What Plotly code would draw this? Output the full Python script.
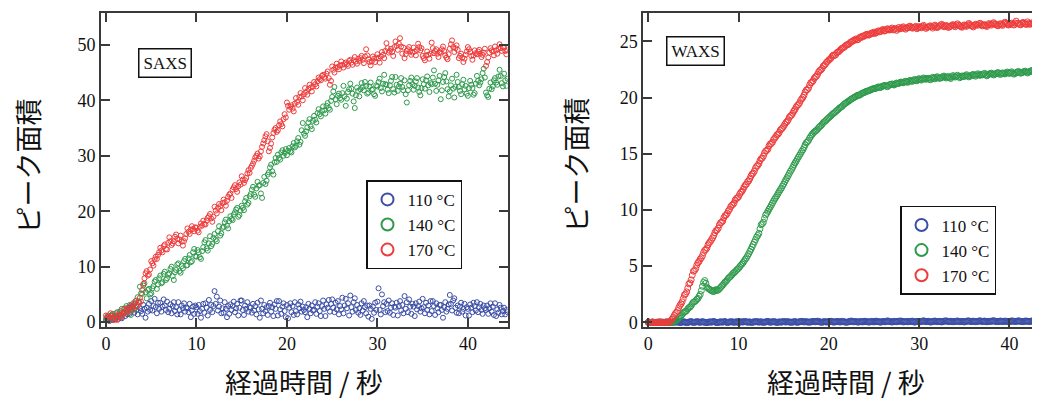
import plotly.graph_objects as go

# ---------------- data (sampled every 0.125 s) ----------------
SAMPLE_STEP_S = 0.125
legend_labels = ["110 °C", "140 °C", "170 °C"]
x_ticks = [0, 10, 20, 30, 40]
saxs_y_ticks = [0, 10, 20, 30, 40, 50]
waxs_y_ticks = [0, 5, 10, 15, 20, 25]

saxs_110 = [
    0.3, 0.6, 0.9, 0.2, 0.7, 1.1, 0.4, 0.8,
    0.5, 1.2, 0.9, 0.6, 1.4, 1.0, 0.7, 1.6,
    1.8, 1.1, 2.2, 1.4, 2.6, 1.5, 1.9, 2.8,
    2.9, 1.7, 3.4, 2.2, 1.4, 3.6, 2.5, 2.0,
    1.5, 3.1, 2.4, 0.8, 2.6, 1.9, 3.3, 2.2,
    3.8, 2.1, 2.9, 4.2, 2.7, 1.6, 3.5, 2.4,
    3.5, 1.9, 2.8, 4.1, 3.0, 2.2, 3.7, 1.8,
    2.4, 3.2, 1.6, 2.9, 3.6, 2.0, 2.7, 1.4,
    3.6, 2.2, 1.4, 3.0, 2.5, 3.4, 1.9, 2.6,
    2.5, 1.8, 3.3, 0.9, 2.1, 2.8, 1.5, 3.0,
    2.7, 1.5, 3.1, 2.0, 0.8, 2.4, 3.3, 1.7,
    3.4, 2.6, 1.2, 4.0, 2.2, 3.1, 1.8, 2.9,
    5.6, 3.3, 4.6, 2.1, 2.8, 3.9, 1.6, 2.5,
    1.7, 3.6, 2.4, 0.9, 2.9, 1.5, 3.2, 2.2,
    2.9, 3.7, 1.8, 2.5, 3.3, 1.2, 2.6, 3.9,
    3.9, 2.2, 1.3, 3.0, 2.4, 3.6, 1.9, 2.7,
    2.6, 1.7, 3.3, 2.1, 2.9, 1.4, 3.5, 2.3,
    0.8, 3.9, 2.4, 1.6, 3.1, 2.0, 2.7, 1.3,
    2.9, 3.5, 1.9, 2.7, 1.1, 3.2, 2.4, 3.8,
    1.2, 3.8, 2.3, 1.5, 2.8, 3.4, 2.0, 0.9,
    3.1, 0.7, 2.6, 3.4, 1.8, 2.9, 1.3, 3.6,
    2.0, 1.4, 3.2, 2.5, 3.7, 1.9, 2.8, 2.2,
    1.8, 2.7, 0.9, 3.3, 2.4, 1.6, 3.0, 2.1,
    2.2, 3.6, 1.5, 2.8, 3.4, 2.0, 1.1, 2.9,
    3.9, 2.4, 1.1, 3.2, 2.6, 4.0, 1.9, 3.3,
    4.1, 2.6, 1.8, 3.5, 2.3, 3.8, 1.4, 2.9,
    2.3, 4.4, 1.6, 3.0, 4.2, 2.5, 3.4, 1.2,
    4.8, 2.7, 1.9, 3.6, 4.3, 2.2, 3.1, 1.7,
    2.5, 1.3, 3.4, 2.1, 3.8, 2.7, 1.6, 3.0,
    1.0, 3.0, 2.4, 0.6, 2.8, 1.7, 3.5, 2.2,
    3.7, 6.1, 2.2, 1.4, 5.0, 2.9, 3.6, 1.8,
    3.3, 2.0, 3.9, 1.7, 2.6, 3.4, 1.3, 2.8,
    2.6, 3.5, 1.2, 2.9, 3.8, 2.1, 3.1, 1.6,
    4.7, 2.4, 3.6, 1.8, 4.1, 2.8, 1.5, 3.3,
    2.8, 1.1, 3.4, 2.3, 2.9, 3.7, 1.9, 2.5,
    4.2, 2.7, 1.6, 3.5, 2.2, 3.0, 1.4, 3.8,
    2.0, 3.8, 2.9, 1.3, 3.4, 2.5, 1.8, 3.1,
    3.1, 2.2, 0.8, 2.7, 3.6, 1.9, 2.4, 3.2,
    4.9, 3.3, 2.1, 3.9, 4.3, 2.6, 1.7, 3.0,
    1.6, 2.8, 3.5, 1.9, 2.4, 3.3, 1.2, 2.7,
    2.4, 1.2, 3.2, 2.6, 1.8, 3.5, 2.9, 2.1,
    3.6, 1.8, 2.7, 3.3, 2.2, 1.5, 3.0, 2.5,
    2.2, 3.0, 1.5, 2.5, 3.4, 1.9, 2.8, 1.3,
    3.4, 1.1, 2.3, 1.7, 3.1, 2.6, 1.4, 2.0,
    2.6, 1.4, 2.2, 1.8,
]
saxs_140 = [
    0.6, 1.0, 1.2, 0.5, 0.4, 1.3, 1.5, 0.8,
    0.9, 1.6, 1.8, 1.0, 1.1, 2.0, 2.4, 1.5,
    1.6, 2.5, 2.9, 1.8, 2.2, 3.1, 1.3, 2.4,
    3.4, 2.3, 2.6, 3.9, 4.5, 3.6, 6.4, 5.2,
    5.1, 6.6, 7.0, 5.4, 4.3, 5.8, 6.0, 5.0,
    5.2, 6.1, 6.5, 7.3, 7.6, 6.0, 6.8, 7.9,
    8.4, 7.0, 7.2, 8.7, 9.1, 7.6, 7.9, 8.6,
    8.8, 9.6, 10.0, 8.3, 7.6, 9.0, 9.4, 10.4,
    10.6, 9.2, 8.9, 10.1, 9.7, 11.0, 11.4, 10.2,
    10.3, 11.5, 12.1, 10.8, 11.0, 12.6, 13.2, 11.9,
    11.8, 13.0, 12.6, 11.7, 11.4, 12.8, 13.5, 14.4,
    14.8, 13.3, 12.9, 14.2, 15.5, 13.7, 14.1, 15.2,
    15.9, 14.9, 14.6, 16.4, 17.3, 15.6, 16.0, 17.0,
    17.2, 18.0, 18.5, 17.4, 16.9, 18.2, 19.1, 18.6,
    18.4, 19.4, 19.8, 20.3, 20.6, 19.0, 19.3, 20.1,
    21.0, 20.6, 20.2, 21.8, 22.4, 21.2, 21.5, 22.7,
    23.1, 23.9, 24.4, 23.0, 22.6, 24.1, 25.3, 24.6,
    24.7, 23.2, 22.4, 25.1, 26.2, 24.9, 25.5, 26.6,
    27.0, 27.9, 28.4, 27.2, 26.6, 28.8, 29.6, 28.9,
    30.2, 29.6, 29.3, 30.6, 31.0, 30.0, 30.5, 31.2,
    30.1, 30.9, 31.4, 30.8, 30.6, 31.7, 32.3, 31.5,
    31.8, 32.6, 33.2, 32.0, 32.5, 34.6, 35.9, 34.0,
    33.6, 34.4, 35.1, 36.0, 36.6, 35.3, 34.8, 36.3,
    37.2, 36.5, 36.0, 37.7, 38.4, 37.5, 37.1, 38.1,
    38.9, 38.2, 37.6, 39.0, 39.5, 38.6, 38.3, 39.9,
    40.6, 41.6, 42.4, 40.2, 39.3, 40.8, 41.2, 40.4,
    40.1, 41.3, 42.6, 40.7, 39.0, 40.3, 41.5, 42.0,
    43.0, 42.1, 41.2, 39.8, 38.6, 40.9, 42.3, 41.7,
    40.7, 42.0, 43.1, 42.4, 41.8, 43.3, 42.6, 41.2,
    41.4, 42.5, 43.2, 41.9, 42.0, 41.1, 40.8, 42.7,
    42.5, 43.3, 43.9, 42.2, 41.6, 43.0, 44.6, 42.9,
    42.8, 41.9, 41.3, 42.7, 43.5, 44.2, 42.0, 41.4,
    44.2, 42.8, 41.7, 42.5, 43.0, 44.0, 42.4, 41.8,
    43.6, 41.1, 39.6, 41.8, 42.7, 43.5, 44.1, 42.9,
    41.9, 42.6, 43.4, 44.0, 42.3, 41.5, 40.9, 42.2,
    43.8, 42.9, 42.1, 43.6, 44.3, 42.7, 41.5, 43.1,
    42.9, 44.1, 45.4, 43.0, 41.7, 42.8, 43.6, 44.4,
    40.2, 41.8, 43.3, 44.2, 44.9, 43.4, 42.0, 40.7,
    41.6, 42.7, 43.9, 42.1, 40.5, 42.4, 44.6, 43.3,
    42.4, 41.7, 41.1, 42.9, 43.7, 42.0, 42.6, 41.2,
    40.8, 42.2, 43.5, 42.8, 42.2, 41.0, 41.3, 43.0,
    44.4, 43.5, 42.7, 43.2, 43.8, 44.9, 45.7, 44.1,
    41.4, 40.9, 40.6, 42.1, 43.2, 42.0, 42.5, 43.6,
    44.0, 43.2, 42.8, 44.3, 45.5, 44.4, 43.1, 42.5,
    44.8, 43.6, 42.6, 43.9,
]
saxs_170 = [
    1.2, 0.8, 0.5, 1.0, 1.6, 1.1, 0.7, 0.4,
    1.1, 0.6, 0.4, 1.2, 1.8, 1.3, 0.9, 1.5,
    2.4, 1.9, 1.6, 2.5, 2.1, 2.7, 3.0, 2.2,
    2.6, 3.3, 3.8, 2.8, 2.9, 3.6, 4.4, 3.7,
    5.8, 6.9, 7.9, 8.8, 9.2, 8.4, 8.6, 9.5,
    11.0, 10.6, 10.2, 11.3, 11.8, 11.4, 12.1, 12.6,
    13.4, 12.9, 12.6, 13.7, 14.0, 13.2, 13.1, 14.3,
    15.3, 14.6, 13.9, 14.2, 14.6, 15.4, 15.8, 15.0,
    14.2, 14.9, 15.6, 14.5, 13.8, 14.6, 15.1, 15.9,
    16.9, 16.3, 15.9, 16.7, 17.3, 16.8, 16.4, 17.1,
    17.0, 16.5, 16.2, 17.2, 17.8, 17.4, 18.3, 17.7,
    17.6, 18.3, 18.8, 19.1, 19.5, 18.7, 18.1, 19.0,
    20.8, 20.1, 19.6, 20.6, 21.3, 20.9, 20.2, 21.5,
    22.1, 21.6, 21.0, 21.9, 22.6, 23.0, 23.2, 22.4,
    23.9, 24.3, 24.7, 24.0, 23.5, 24.5, 25.2, 24.8,
    26.3, 25.7, 25.1, 25.6, 26.0, 26.8, 27.4, 26.9,
    27.8, 28.2, 28.6, 29.1, 29.7, 30.0, 30.4, 29.5,
    29.9, 30.8, 31.6, 32.2, 32.8, 33.5, 33.9, 32.6,
    30.8, 31.4, 32.2, 33.3, 34.1, 34.7, 35.0, 34.3,
    34.6, 35.5, 36.2, 35.7, 35.3, 36.6, 37.5, 36.9,
    39.6, 39.0, 38.3, 38.8, 39.1, 38.5, 38.0, 39.4,
    40.4, 39.7, 39.2, 40.6, 41.3, 40.7, 40.0, 41.1,
    42.2, 41.5, 41.0, 42.0, 42.8, 42.3, 41.6, 42.5,
    43.3, 42.9, 42.5, 43.4, 44.1, 43.8, 43.6, 44.4,
    44.6, 44.2, 43.9, 44.8, 45.2, 44.0, 42.8, 43.5,
    46.1, 45.5, 45.0, 45.9, 46.6, 46.0, 45.6, 46.3,
    47.0, 46.4, 45.9, 46.5, 46.8, 46.5, 46.2, 47.1,
    47.3, 46.8, 46.4, 47.2, 47.8, 47.0, 46.6, 47.5,
    47.1, 47.6, 48.0, 47.3, 46.7, 47.9, 49.2, 48.1,
    47.4, 46.9, 46.3, 47.0, 47.9, 47.5, 46.9, 47.7,
    48.3, 47.5, 46.8, 47.9, 48.7, 48.2, 47.6, 48.9,
    50.3, 49.4, 48.6, 48.9, 49.3, 48.7, 48.0, 49.6,
    50.6, 49.8, 49.1, 50.2, 51.2, 49.7, 48.4, 49.5,
    47.6, 48.3, 48.9, 49.2, 49.6, 48.8, 48.2, 48.6,
    49.5, 48.8, 48.1, 49.1, 50.2, 49.6, 49.0, 49.4,
    48.0, 47.6, 47.2, 48.1, 48.8, 48.2, 47.5, 48.4,
    50.4, 49.4, 48.5, 48.9, 49.2, 48.4, 47.8, 48.7,
    48.6, 49.2, 49.7, 48.9, 48.1, 47.7, 47.4, 48.3,
    49.3, 50.1, 50.8, 49.6, 48.7, 49.4, 49.9, 49.1,
    47.6, 48.0, 48.4, 47.7, 46.9, 47.5, 48.2, 48.8,
    49.6, 49.2, 48.7, 48.0, 47.3, 48.1, 49.0, 48.5,
    48.3, 48.8, 49.1, 48.4, 47.8, 48.2, 48.6, 49.3,
    46.2, 46.9, 47.7, 48.6, 49.4, 49.0, 48.8, 48.1,
    49.7, 49.0, 48.4, 49.3, 50.1, 49.4, 48.9, 49.6,
    49.5, 48.9, 48.3, 49.0,
]

waxs_110 = [
    0.02, 0.00, -0.01, 0.01, 0.03, 0.01, 0.00, -0.02,
    -0.02, 0.01, 0.04, 0.02, 0.01, -0.01, -0.03, 0.00,
    0.05, 0.02, 0.00, -0.02, -0.01, 0.01, 0.03, 0.04,
    0.01, 0.03, 0.06, 0.02, -0.02, 0.00, 0.02, 0.05,
    0.04, 0.01, -0.03, 0.00, 0.02, 0.05, 0.07, 0.03,
    -0.01, 0.01, 0.03, 0.06, 0.05, 0.02, 0.00, 0.04,
    0.06, 0.03, 0.01, -0.01, -0.02, 0.01, 0.04, 0.03,
    0.02, 0.05, 0.08, 0.04, 0.00, -0.01, -0.01, 0.02,
    0.05, 0.03, 0.02, 0.05, 0.07, 0.03, -0.02, 0.01,
    0.03, 0.05, 0.06, 0.02, 0.01, 0.03, 0.04, 0.06,
    -0.02, 0.02, 0.05, 0.04, 0.03, 0.06, 0.08, 0.04,
    0.01, 0.03, 0.04, 0.01, -0.01, 0.03, 0.06, 0.05,
    0.07, 0.04, 0.02, 0.04, 0.05, 0.02, 0.00, 0.02,
    0.03, 0.07, 0.09, 0.04, 0.01, 0.03, 0.05, 0.06,
    0.06, 0.02, -0.01, 0.02, 0.04, 0.03, 0.02, 0.05,
    0.08, 0.05, 0.03, 0.05, 0.06, 0.03, 0.01, 0.02,
    0.02, 0.05, 0.07, 0.03, 0.00, 0.03, 0.05, 0.07,
    0.09, 0.06, 0.04, 0.05, 0.06, 0.04, 0.02, 0.03,
    0.03, 0.06, 0.08, 0.07, 0.05, 0.08, 0.11, 0.07,
    0.04, 0.02, 0.01, 0.04, 0.07, 0.05, 0.03, 0.05,
    0.06, 0.08, 0.10, 0.06, 0.02, 0.04, 0.05, 0.07,
    0.08, 0.05, 0.03, 0.06, 0.09, 0.06, 0.04, 0.02,
    0.01, 0.04, 0.06, 0.09, 0.12, 0.08, 0.05, 0.06,
    0.07, 0.04, 0.02, 0.05, 0.08, 0.06, 0.04, 0.07,
    0.10, 0.07, 0.05, 0.04, 0.03, 0.06, 0.09, 0.06,
    0.04, 0.08, 0.11, 0.08, 0.06, 0.04, 0.02, 0.05,
    0.08, 0.06, 0.05, 0.09, 0.13, 0.10, 0.07, 0.05,
    0.03, 0.06, 0.09, 0.07, 0.06, 0.08, 0.10, 0.11,
    0.12, 0.08, 0.04, 0.06, 0.08, 0.07, 0.05, 0.08,
    0.07, 0.09, 0.11, 0.06, 0.02, 0.05, 0.09, 0.07,
    0.05, 0.06, 0.08, 0.11, 0.14, 0.10, 0.06, 0.08,
    0.10, 0.06, 0.03, 0.05, 0.07, 0.10, 0.12, 0.09,
    0.06, 0.08, 0.09, 0.06, 0.04, 0.07, 0.11, 0.12,
    0.13, 0.10, 0.07, 0.08, 0.10, 0.07, 0.05, 0.07,
    0.08, 0.10, 0.12, 0.09, 0.06, 0.08, 0.09, 0.06,
    0.04, 0.07, 0.10, 0.12, 0.13, 0.10, 0.07, 0.09,
    0.11, 0.08, 0.06, 0.07, 0.09, 0.12, 0.14, 0.10,
    0.07, 0.09, 0.12, 0.08, 0.05, 0.08, 0.10, 0.09,
    0.09, 0.12, 0.15, 0.11, 0.08, 0.07, 0.06, 0.09,
    0.12, 0.09, 0.07, 0.09, 0.11, 0.10, 0.09, 0.07,
    0.05, 0.09, 0.13, 0.11, 0.10, 0.09, 0.08, 0.11,
    0.14, 0.11, 0.09, 0.07, 0.06, 0.09, 0.12, 0.11,
    0.10, 0.08, 0.07, 0.10, 0.13, 0.12, 0.11, 0.09,
    0.08, 0.10, 0.12, 0.11, 0.09, 0.12, 0.15, 0.13,
    0.11, 0.09, 0.07, 0.10,
]
waxs_140 = [
    0.00, 0.01, -0.02, 0.00, 0.01, -0.01, 0.00, 0.01,
    0.01, 0.00, -0.01, 0.01, 0.00, 0.02, 0.01, 0.00,
    0.00, -0.01, 0.01, 0.00, -0.01, 0.02, 0.03, 0.05,
    0.12, 0.19, 0.28, 0.40, 0.51, 0.58, 0.69, 0.83,
    0.92, 0.97, 1.05, 1.20, 1.31, 1.36, 1.48, 1.66,
    1.79, 1.83, 1.92, 2.05, 2.13, 2.31, 2.48, 2.82,
    3.21, 3.55, 3.72, 3.48, 3.14, 3.02, 2.96, 2.89,
    2.82, 2.77, 2.74, 2.85, 2.91, 2.83, 2.88, 2.99,
    3.10, 3.22, 3.32, 3.45, 3.58, 3.66, 3.79, 3.92,
    4.02, 4.10, 4.21, 4.35, 4.43, 4.51, 4.62, 4.73,
    4.81, 4.95, 5.08, 5.19, 5.31, 5.47, 5.62, 5.75,
    5.93, 6.11, 6.31, 6.50, 6.72, 6.93, 7.15, 7.36,
    7.58, 7.73, 7.92, 8.32, 8.68, 8.77, 8.91, 9.24,
    9.55, 9.70, 9.88, 10.07, 10.24, 10.42, 10.61, 10.79,
    10.97, 11.12, 11.28, 11.46, 11.63, 11.80, 11.95, 12.14,
    12.31, 12.52, 12.70, 12.87, 13.05, 13.25, 13.44, 13.60,
    13.79, 14.00, 14.18, 14.33, 14.52, 14.70, 14.86, 15.03,
    15.21, 15.36, 15.55, 15.79, 15.98, 16.06, 16.19, 16.39,
    16.55, 16.70, 16.82, 16.93, 17.01, 17.08, 17.18, 17.33,
    17.42, 17.50, 17.61, 17.75, 17.84, 17.92, 18.02, 18.13,
    18.21, 18.30, 18.39, 18.50, 18.58, 18.65, 18.74, 18.84,
    18.91, 19.02, 19.10, 19.16, 19.24, 19.36, 19.45, 19.50,
    19.58, 19.66, 19.71, 19.80, 19.86, 19.93, 19.98, 20.05,
    20.09, 20.17, 20.22, 20.20, 20.26, 20.35, 20.41, 20.43,
    20.48, 20.54, 20.57, 20.60, 20.62, 20.69, 20.74, 20.76,
    20.80, 20.79, 20.84, 20.90, 20.95, 20.88, 20.91, 20.99,
    21.02, 21.06, 21.08, 21.00, 20.97, 21.07, 21.15, 21.17,
    21.21, 21.14, 21.12, 21.22, 21.29, 21.25, 21.26, 21.33,
    21.38, 21.33, 21.31, 21.40, 21.45, 21.39, 21.36, 21.46,
    21.52, 21.47, 21.44, 21.53, 21.61, 21.54, 21.49, 21.60,
    21.68, 21.60, 21.55, 21.66, 21.74, 21.67, 21.62, 21.69,
    21.71, 21.63, 21.58, 21.70, 21.80, 21.72, 21.66, 21.78,
    21.85, 21.76, 21.70, 21.74, 21.77, 21.86, 21.91, 21.82,
    21.74, 21.81, 21.88, 21.77, 21.69, 21.84, 21.95, 21.86,
    21.82, 21.91, 21.98, 21.85, 21.76, 21.85, 21.92, 21.88,
    21.87, 21.96, 22.03, 21.92, 21.84, 21.90, 21.96, 22.01,
    22.06, 21.97, 21.90, 22.02, 22.11, 22.03, 21.97, 22.05,
    22.02, 22.09, 22.15, 22.03, 21.93, 22.01, 22.09, 22.13,
    22.17, 22.08, 22.01, 22.07, 22.12, 22.18, 22.22, 22.13,
    22.05, 22.13, 22.19, 22.14, 22.10, 22.20, 22.27, 22.19,
    22.14, 22.22, 22.29, 22.17, 22.08, 22.15, 22.21, 22.27,
    22.32, 22.23, 22.16, 22.21, 22.25, 22.31, 22.35, 22.26,
    22.19, 22.26, 22.31, 22.37, 22.41, 22.32, 22.24, 22.30,
    22.36, 22.28, 22.22, 22.34, 22.44, 22.37, 22.30, 22.35,
    22.39, 22.33, 22.27, 22.31,
]
waxs_170 = [
    0.00, 0.01, -0.01, 0.00, 0.01, 0.00, -0.01, 0.01,
    0.01, 0.00, -0.01, 0.01, 0.00, 0.01, 0.00, -0.01,
    0.00, 0.01, 0.02, 0.05, 0.15, 0.28, 0.42, 0.61,
    0.78, 0.89, 1.05, 1.31, 1.52, 1.64, 1.83, 2.12,
    2.44, 2.52, 2.71, 3.05, 3.42, 3.51, 3.78, 4.20,
    4.55, 4.61, 4.78, 5.09, 5.31, 5.42, 5.62, 5.74,
    5.93, 6.21, 6.41, 6.48, 6.62, 6.90, 7.08, 7.19,
    7.36, 7.51, 7.72, 7.98, 8.15, 8.22, 8.38, 8.67,
    8.85, 8.91, 9.02, 9.31, 9.49, 9.55, 9.71, 9.92,
    10.05, 10.28, 10.42, 10.49, 10.61, 10.88, 11.02, 11.07,
    11.18, 11.40, 11.57, 11.66, 11.83, 12.05, 12.22, 12.30,
    12.51, 12.59, 12.78, 13.02, 13.19, 13.28, 13.46, 13.71,
    13.88, 13.96, 14.12, 14.39, 14.55, 14.62, 14.80, 15.06,
    15.24, 15.30, 15.41, 15.70, 15.86, 15.91, 16.02, 16.25,
    16.38, 16.52, 16.69, 16.74, 16.88, 17.10, 17.21, 17.30,
    17.45, 17.62, 17.78, 17.86, 18.02, 18.24, 18.36, 18.44,
    18.61, 18.80, 18.94, 19.15, 19.29, 19.37, 19.52, 19.74,
    19.88, 20.01, 20.21, 20.49, 20.66, 20.70, 20.84, 21.12,
    21.32, 21.36, 21.48, 21.70, 21.82, 21.90, 22.06, 22.28,
    22.41, 22.46, 22.58, 22.79, 22.87, 22.98, 23.14, 23.22,
    23.35, 23.41, 23.52, 23.69, 23.78, 23.74, 23.81, 23.97,
    24.05, 24.10, 24.21, 24.33, 24.38, 24.44, 24.52, 24.63,
    24.70, 24.71, 24.78, 24.90, 24.95, 25.02, 25.08, 25.12,
    25.21, 25.13, 25.16, 25.31, 25.39, 25.35, 25.47, 25.44,
    25.52, 25.60, 25.63, 25.55, 25.58, 25.69, 25.74, 25.70,
    25.82, 25.71, 25.76, 25.87, 25.93, 25.84, 25.88, 25.99,
    26.05, 25.92, 25.94, 26.06, 26.12, 26.03, 26.01, 26.10,
    26.18, 26.02, 26.06, 26.14, 25.97, 26.09, 26.23, 26.11,
    26.14, 26.22, 26.29, 26.16, 26.08, 26.19, 26.21, 26.30,
    26.35, 26.24, 26.17, 26.21, 26.26, 26.33, 26.12, 26.20,
    26.31, 26.25, 26.20, 26.34, 26.42, 26.28, 26.15, 26.24,
    26.27, 26.33, 26.38, 26.29, 26.18, 26.36, 26.44, 26.31,
    26.22, 26.30, 26.36, 26.45, 26.51, 26.39, 26.29, 26.37,
    26.41, 26.32, 26.23, 26.30, 26.35, 26.43, 26.48, 26.36,
    26.30, 26.47, 26.56, 26.44, 26.37, 26.31, 26.25, 26.39,
    26.46, 26.38, 26.33, 26.47, 26.59, 26.49, 26.40, 26.35,
    26.28, 26.41, 26.52, 26.48, 26.43, 26.55, 26.61, 26.47,
    26.37, 26.45, 26.49, 26.39, 26.32, 26.46, 26.58, 26.50,
    26.44, 26.57, 26.66, 26.55, 26.50, 26.42, 26.38, 26.49,
    26.57, 26.48, 26.42, 26.58, 26.70, 26.61, 26.53, 26.45,
    26.49, 26.55, 26.62, 26.51, 26.45, 26.63, 26.79, 26.60,
    26.58, 26.50, 26.47, 26.59, 26.68, 26.61, 26.55, 26.49,
    26.73, 26.60, 26.51, 26.57, 26.64, 26.53, 26.46, 26.58,
    26.60, 26.66, 26.71, 26.60, 26.52, 26.59, 26.67, 26.62,
    26.58, 26.63, 26.69, 26.57,
]

# ---------------- styling ----------------
# the page body keeps an 8 px margin, so the figure is laid out in a 1024x393 box
PAGE_OFFSET = 8
W, H = 1024, 393
COLORS = ["#3b4ea6", "#2e9a4c", "#ee3b3b"]
SERIF = "Liberation Serif, Times New Roman, serif"
CJK = "Noto Sans CJK JP, sans-serif"
FRAME = "#3a3a3a"


def times(series):
    return [round(i * SAMPLE_STEP_S, 3) for i in range(len(series))]


def px(x):
    return (x - PAGE_OFFSET) / W


def py(y):
    return (H - (y - PAGE_OFFSET)) / H


fig = go.Figure()

for series, name, color in zip([saxs_110, saxs_140, saxs_170], legend_labels, COLORS):
    fig.add_trace(go.Scatter(
        x=times(series), y=series, mode="markers", name=name,
        marker=dict(symbol="circle-open", size=5, color=color, line=dict(width=1, color=color)),
        xaxis="x", yaxis="y", legend="legend",
    ))
for series, name, color in zip([waxs_110, waxs_140, waxs_170], legend_labels, COLORS):
    fig.add_trace(go.Scatter(
        x=times(series), y=series, mode="markers", name=name,
        marker=dict(symbol="circle-open", size=6, color=color, line=dict(width=1, color=color)),
        xaxis="x2", yaxis="y2", legend="legend2",
    ))

y_dom = [py(331.7), py(13.3)]
axis_common = dict(
    showline=True, linecolor=FRAME, linewidth=2,
    ticks="inside", ticklen=9, tickwidth=1.5, tickcolor=FRAME,
    showgrid=False, zeroline=False,
    tickfont=dict(family=SERIF, size=18, color="#111"),
)

legend_common = dict(
    xanchor="left", yanchor="top",
    bordercolor="#111", borderwidth=1.5, bgcolor="white",
    font=dict(family=SERIF, size=17, color="#111"),
    itemsizing="constant", tracegroupgap=0,
)

fig.update_layout(
    width=W, height=H,
    margin=dict(l=0, r=0, t=0, b=0),
    paper_bgcolor="white", plot_bgcolor="white",
    xaxis=dict(domain=[px(101), px(507.7)], range=[-0.55, 44.4], tickvals=x_ticks,
               anchor="y", mirror="ticks", **axis_common),
    yaxis=dict(domain=y_dom, range=[-0.83, 55.7], tickvals=saxs_y_ticks,
               anchor="x", mirror="ticks", **axis_common),
    xaxis2=dict(domain=[px(643.3), 1.0], range=[-0.55, 42.5], tickvals=x_ticks,
                anchor="y2", mirror="ticks", **axis_common),
    yaxis2=dict(domain=y_dom, range=[-0.39, 27.5], tickvals=waxs_y_ticks,
                anchor="x2", mirror=False, **axis_common),
    legend=dict(x=px(366), y=py(183), **legend_common),
    legend2=dict(x=px(900), y=py(209), **legend_common),
    showlegend=True,
)

for text, cx, cy in [("SAXS", 164.5, 63.5), ("WAXS", 695, 51.4)]:
    fig.add_annotation(
        text=text, x=px(cx), y=py(cy), xref="paper", yref="paper",
        xanchor="center", yanchor="middle", showarrow=False,
        font=dict(family=SERIF, size=17, color="#111"),
        bordercolor="#111", borderwidth=1.5, borderpad=4, bgcolor="white",
    )

titles = [
    ("ピーク面積", 28, 169, -90),
    ("ピーク面積", 576, 168, -90),
    ("経過時間 / 秒", 303.5, 387, 0),
    ("経過時間 / 秒", 846, 387, 0),
]
for text, cx, cy, angle in titles:
    fig.add_annotation(
        text=text, x=px(cx), y=py(cy), xref="paper", yref="paper",
        xanchor="center", yanchor="middle", showarrow=False, textangle=angle,
        font=dict(family=CJK, size=27, color="#111"),
    )

fig.write_html("out.html")
